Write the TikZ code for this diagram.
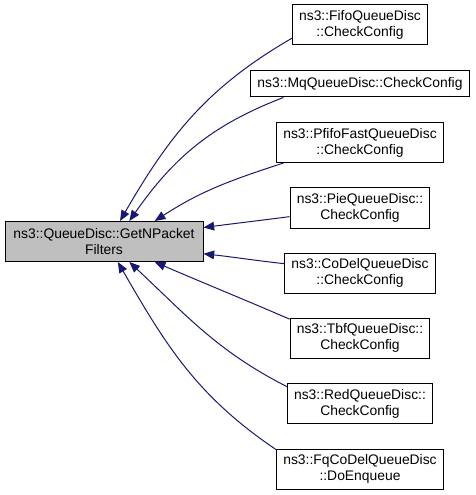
\documentclass[tikz,border=0pt]{standalone}
\usepackage{fontspec}
\setmainfont{Liberation Sans}
\usetikzlibrary{arrows.meta}
\definecolor{edgeblue}{HTML}{191970}
\definecolor{mainfill}{HTML}{BFBFBF}
\tikzset{
	fn/.style={draw=black,line width=0.75pt,fill=white,align=center,inner xsep=5pt,minimum height=30pt,font=\fontsize{10.4}{12}\selectfont},
	edge/.style={draw=edgeblue,line width=0.75pt,-{Triangle[length=8pt,width=6.5pt]}}
}
\begin{document}
\begin{tikzpicture}[x=0.75pt,y=0.75pt]
		\useasboundingbox (0,0) rectangle (475,-495);
		%main function
		\node[fn,fill=mainfill,minimum width=148.5pt] (main) at (104,-241.5) {ns3::QueueDisc::GetNPacket\\Filters};
		%callers
		\foreach \Nom/\Y/\Texte in {fifo/25/{ns3::FifoQueueDisc\\::CheckConfig},pfifo/142.5/{ns3::PfifoFastQueueDisc\\::CheckConfig},pie/208/{ns3::PieQueueDisc::\\CheckConfig},codel/273/{ns3::CoDelQueueDisc\\::CheckConfig},tbf/338/{ns3::TbfQueueDisc::\\CheckConfig},red/403.5/{ns3::RedQueueDisc::\\CheckConfig},fqcodel/469/{ns3::FqCoDelQueueDisc\\::DoEnqueue}}%
		\node[fn] (\Nom) at (360,-\Y) {\Texte};
		\node[fn,minimum height=19.5pt] (mq) at (360,-84) {ns3::MqQueueDisc::CheckConfig};
		%calls
		\foreach \Nom/\Dep/\Arr/\Out/\In in {fifo/191/52/210/60,mq/190/39/201/55,pfifo/195/22/198/33,pie/187/8/187.4/7.4,codel/173/-7/173.6/-6.4,tbf/165/-22/156.7/-23.3,red/167/-39/153/-43,fqcodel/167/-56/146/-60}%
		\draw[edge] (\Nom.\Dep) to[out=\Out,in=\In] (main.\Arr) ;
	\end{tikzpicture}
\end{document}
